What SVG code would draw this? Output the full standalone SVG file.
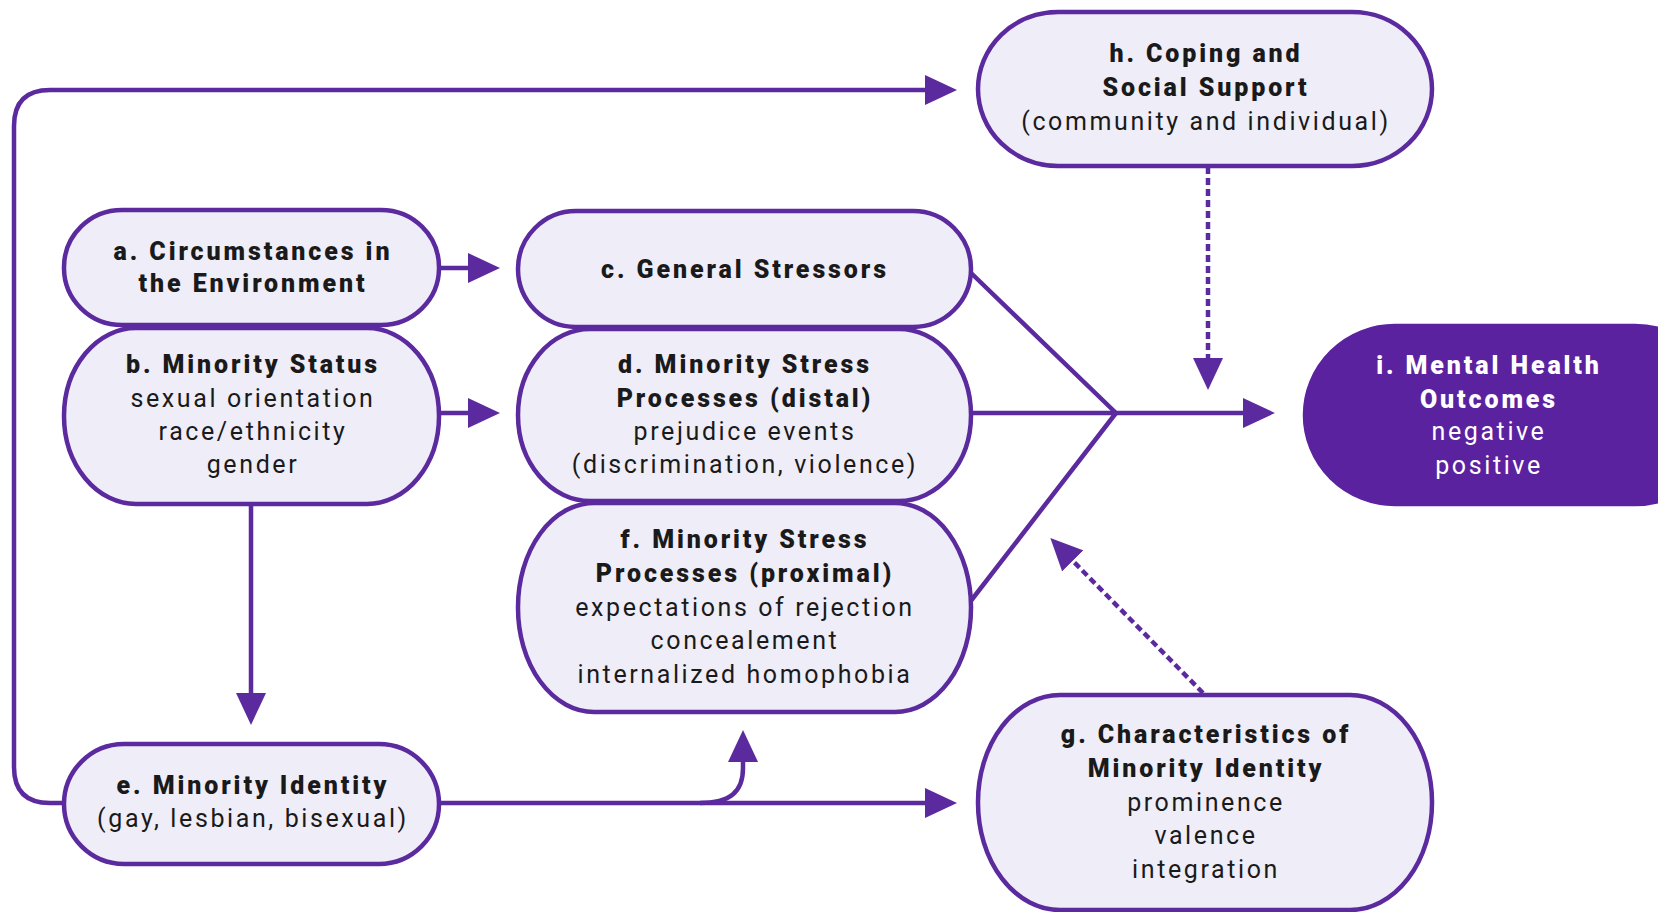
<svg xmlns="http://www.w3.org/2000/svg" width="1658" height="912" viewBox="0 0 1658 912">
<style>
.box{fill:#efedf8;stroke:#5b2a9e;stroke-width:4.5}
.dark{fill:#5b22a0;stroke:#5b22a0;stroke-width:4.5}
.t{font-family:Roboto,"Liberation Sans",sans-serif;font-size:25px;fill:#1a1a1a;text-anchor:middle;letter-spacing:2.6px}
.b{font-weight:900;letter-spacing:2.9px}
.w{fill:#ffffff}
.c{fill:none;stroke:#5b2a9e;stroke-width:4.5}
.d{stroke-dasharray:7 4}
</style>
<defs>
<marker id="ah" markerUnits="userSpaceOnUse" markerWidth="32" markerHeight="30" refX="4" refY="15" orient="auto" viewBox="0 0 32 30">
<path d="M0,0 L32,15 L0,30 z" fill="#5b2a9e"/>
</marker>
</defs>
<g id="connectors">
<path class="c" d="M64,803 H50 Q14,803 14,767 V126 Q14,90 50,90 H929" marker-end="url(#ah)"/>
<path class="c" d="M439,268 H472" marker-end="url(#ah)"/>
<path class="c" d="M439,413 H472" marker-end="url(#ah)"/>
<path class="c" d="M251,504 V697" marker-end="url(#ah)"/>
<path class="c" d="M439,803 H929" marker-end="url(#ah)"/>
<path class="c" d="M700,803 C730,803 743,792 743,768 V758" marker-end="url(#ah)"/>
<path class="c" d="M970,272 L1116,413 M973,413 H1116 M970,602 L1116,413"/>
<path class="c" d="M1114,413 H1247" marker-end="url(#ah)"/>
<path class="c d" d="M1208,167 V362" marker-end="url(#ah)"/>
<path class="c d" d="M1203,693 L1070,558" marker-end="url(#ah)"/>
</g>
<g id="node-a">
<rect class="box" x="64" y="210" width="375" height="115" rx="58" ry="57"/>
<text class="t b" x="253" y="260">a. Circumstances in</text>
<text class="t b" x="253" y="292">the Environment</text>
</g>
<g id="node-b">
<rect class="box" x="64" y="328" width="375" height="176" rx="72" ry="88"/>
<text class="t b" x="253" y="373">b. Minority Status</text>
<text class="t" x="253" y="407">sexual orientation</text>
<text class="t" x="253" y="440">race/ethnicity</text>
<text class="t" x="253" y="473">gender</text>
</g>
<g id="node-c">
<rect class="box" x="518" y="211" width="453" height="116" rx="58" ry="58"/>
<text class="t b" x="745" y="278">c. General Stressors</text>
</g>
<g id="node-d">
<rect class="box" x="518" y="329" width="453" height="172" rx="72" ry="86"/>
<text class="t b" x="745" y="373">d. Minority Stress</text>
<text class="t b" x="745" y="407">Processes (distal)</text>
<text class="t" x="745" y="440">prejudice events</text>
<text class="t" x="745" y="473">(discrimination, violence)</text>
</g>
<g id="node-f">
<rect class="box" x="518" y="503" width="453" height="209" rx="76" ry="104"/>
<text class="t b" x="745" y="548">f. Minority Stress</text>
<text class="t b" x="745" y="582">Processes (proximal)</text>
<text class="t" x="745" y="616">expectations of rejection</text>
<text class="t" x="745" y="649">concealement</text>
<text class="t" x="745" y="683">internalized homophobia</text>
</g>
<g id="node-h">
<rect class="box" x="978" y="12" width="454" height="154" rx="80" ry="77"/>
<text class="t b" x="1206" y="62">h. Coping and</text>
<text class="t b" x="1206" y="96">Social Support</text>
<text class="t" x="1206" y="130">(community and individual)</text>
</g>
<g id="node-i">
<rect class="dark" x="1305" y="326" width="420" height="178" rx="90" ry="89"/>
<text class="t b w" x="1489" y="374">i. Mental Health</text>
<text class="t b w" x="1489" y="408">Outcomes</text>
<text class="t w" x="1489" y="440">negative</text>
<text class="t w" x="1489" y="474">positive</text>
</g>
<g id="node-e">
<rect class="box" x="64" y="744" width="375" height="120" rx="60" ry="60"/>
<text class="t b" x="253" y="794">e. Minority Identity</text>
<text class="t" x="253" y="827">(gay, lesbian, bisexual)</text>
</g>
<g id="node-g">
<rect class="box" x="978" y="695" width="454" height="215" rx="82" ry="107"/>
<text class="t b" x="1206" y="743">g. Characteristics of</text>
<text class="t b" x="1206" y="777">Minority Identity</text>
<text class="t" x="1206" y="811">prominence</text>
<text class="t" x="1206" y="844">valence</text>
<text class="t" x="1206" y="878">integration</text>
</g>
</svg>
